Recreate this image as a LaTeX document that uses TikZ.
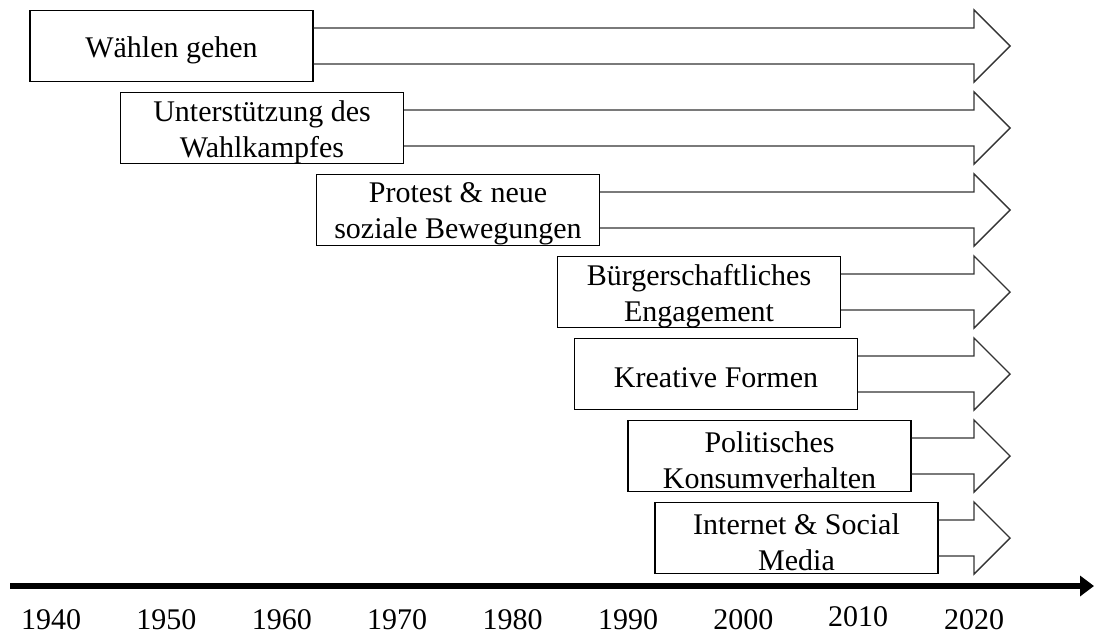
\documentclass[tikz,border=0pt]{standalone}
\usepackage{fontspec}
\setmainfont{Liberation Serif}
\usetikzlibrary{calc,arrows.meta}

\tikzset{
  box/.style={draw=black, fill=white, line width=1.4pt, minimum width=283pt,
    minimum height=71pt, inner sep=0pt},
  boxtext/.style={inner sep=0pt, align=center, yshift=-4pt,
    font=\fontsize{30}{36}\selectfont},
  blockarrow/.style={draw=black!80, line width=1.4pt, line join=miter},
  year/.style={font=\fontsize{30}{36}\selectfont, inner sep=0pt},
  timeline/.style={line width=6.5pt, -{Triangle[length=14pt,width=20pt]}}
}

\begin{document}
\begin{tikzpicture}[x=1pt, y=-1pt]
  \useasboundingbox (0,0) rectangle (1094,635);

  % forms of participation, one row each
  \node[box] (b1) at (171.5,46)  {};
  \node[box] (b2) at (262,128)   {};
  \node[box] (b3) at (458,210)   {};
  \node[box] (b4) at (699,292)   {};
  \node[box] (b5) at (716,374)   {};
  \node[box] (b6) at (769.5,456) {};
  \node[box] (b7) at (796.5,538) {};

  \node[boxtext] (l1) at (b1) {Wählen gehen};
  \node[boxtext] (l2) at (b2) {Unterstützung des\\Wahlkampfes};
  \node[boxtext] (l3) at (b3) {Protest \& neue\\soziale Bewegungen};
  \node[boxtext] (l4) at (b4) {Bürgerschaftliches\\Engagement};
  \node[boxtext] (l5) at (b5) {Kreative Formen};
  \node[boxtext] (l6) at (b6) {Politisches\\Konsumverhalten};
  \node[boxtext] (l7) at (b7) {Internet \& Social\\Media};

  % block arrows running from each box to the present
  \foreach \i/\y in {1/46,2/128,3/210,4/292,5/374,6/456,7/538}{
    \coordinate (t\i) at (1010,\y);
    \draw[blockarrow] ($(b\i.east)+(0,-18)$) -- ($(t\i)+(-36,-18)$)
      -- ($(t\i)+(-36,-36)$) -- (t\i) -- ($(t\i)+(-36,36)$)
      -- ($(t\i)+(-36,18)$) -- ($(b\i.east)+(0,18)$);
  }

  % time axis
  \coordinate (axL) at (10,586);
  \coordinate (axR) at (1094,586);
  \draw[timeline] (axL) -- (axR);

  \foreach \yr [count=\k from 0] in {1940,1950,1960,1970,1980,1990,2000}{
    \node[year] (y\yr) at ({51+115.4*\k},620) {\yr};
  }
  \node[year] (y2010) at (858,617) {2010};
  \node[year] (y2020) at (974,620) {2020};
\end{tikzpicture}
\end{document}
